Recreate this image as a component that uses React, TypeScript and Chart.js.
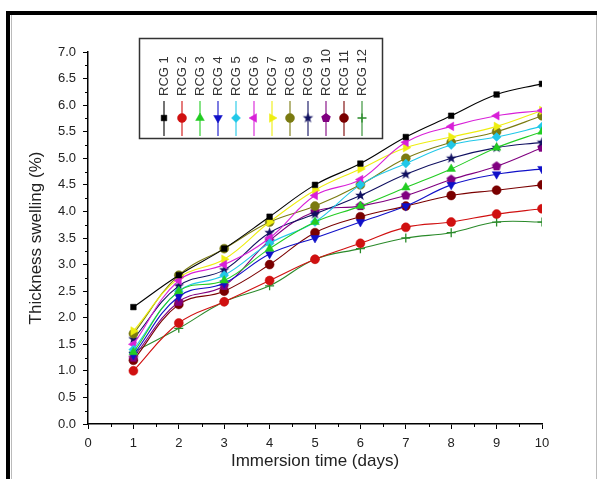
import React, { useEffect, useRef } from 'react';
import { Chart, registerables } from 'chart.js';
import { drawPoint } from 'chart.js/helpers';
Chart.register(...registerables);

const days = [1, 2, 3, 4, 5, 6, 7, 8, 9, 10];
const seriesLabels = ['RCG 1', 'RCG 2', 'RCG 3', 'RCG 4', 'RCG 5', 'RCG 6', 'RCG 7', 'RCG 8', 'RCG 9', 'RCG 10', 'RCG 11', 'RCG 12'];
const rcg1 = [2.2, 2.8, 3.3, 3.9, 4.5, 4.9, 5.4, 5.8, 6.2, 6.4];
const rcg2 = [1.0, 1.9, 2.3, 2.7, 3.1, 3.4, 3.7, 3.8, 3.95, 4.05];
const rcg3 = [1.35, 2.5, 2.7, 3.3, 3.8, 4.1, 4.45, 4.8, 5.2, 5.5];
const rcg4 = [1.3, 2.4, 2.65, 3.2, 3.5, 3.8, 4.1, 4.5, 4.7, 4.8];
const rcg5 = [1.4, 2.5, 2.8, 3.4, 3.8, 4.5, 4.9, 5.25, 5.4, 5.6];
const rcg6 = [1.5, 2.7, 3.0, 3.5, 4.3, 4.6, 5.3, 5.6, 5.8, 5.9];
const rcg7 = [1.75, 2.75, 3.1, 3.8, 4.4, 4.8, 5.2, 5.4, 5.6, 5.9];
const rcg8 = [1.7, 2.8, 3.3, 3.8, 4.1, 4.5, 5.0, 5.3, 5.5, 5.8];
const rcg9 = [1.6, 2.6, 2.9, 3.6, 3.95, 4.3, 4.7, 5.0, 5.2, 5.3];
const rcg10 = [1.25, 2.3, 2.6, 3.45, 4.0, 4.1, 4.3, 4.6, 4.85, 5.2];
const rcg11 = [1.2, 2.25, 2.5, 3.0, 3.6, 3.9, 4.1, 4.3, 4.4, 4.5];
const rcg12 = [1.35, 1.8, 2.3, 2.6, 3.1, 3.3, 3.5, 3.6, 3.8, 3.8];
const seriesValues = [rcg1, rcg2, rcg3, rcg4, rcg5, rcg6, rcg7, rcg8, rcg9, rcg10, rcg11, rcg12];
const seriesColors = ['#000000', '#d01010', '#22cc22', '#1010c8', '#20c8e8', '#d820d8', '#eeee10', '#7a7a10', '#101060', '#800080', '#7a0000', '#2a8a2a'];

const FONT = "'Liberation Sans', Arial, sans-serif";

function makeShape(color: string, r: number, kind: 'star' | 'pentagon') {
  const s = Math.ceil(r * 2 + 2);
  const c = document.createElement('canvas');
  c.width = s; c.height = s;
  const ctx = c.getContext('2d')!;
  ctx.fillStyle = color;
  ctx.beginPath();
  const n = kind === 'star' ? 10 : 5;
  for (let i = 0; i < n; i++) {
    const ang = -Math.PI / 2 + (i * 2 * Math.PI) / n;
    const rr = kind === 'star' && i % 2 === 1 ? r * 0.42 : r;
    const px = s / 2 + rr * Math.cos(ang);
    const py = s / 2 + rr * Math.sin(ang);
    if (i === 0) ctx.moveTo(px, py); else ctx.lineTo(px, py);
  }
  ctx.closePath();
  ctx.fill();
  return c;
}

export default function App() {
  const ref = useRef<HTMLCanvasElement>(null);
  useEffect(() => {
    const star = makeShape('#101060', 5.5, 'star');
    const penta = makeShape('#800080', 5, 'pentagon');
    const styles: any[] = ['rect', 'circle', 'triangle', 'triangle', 'rectRot', 'triangle', 'triangle', 'circle', star, penta, 'circle', 'cross'];
    const rotations = [0, 0, 0, 180, 0, 270, 90, 0, 0, 0, 0, 0];
    const radii = [4, 4.5, 5, 5, 4.5, 5, 5, 4.5, 5, 5, 4.5, 4.5];

    const datasets = seriesValues.map((vals, i) => ({
      label: seriesLabels[i],
      data: days.map((d, j) => ({ x: d, y: vals[j] })),
      borderColor: seriesColors[i],
      backgroundColor: seriesColors[i],
      pointBackgroundColor: seriesColors[i],
      pointBorderColor: seriesColors[i],
      pointStyle: styles[i],
      pointRotation: rotations[i],
      pointRadius: radii[i],
      pointBorderWidth: i === 11 ? 1.3 : 0.5,
      borderWidth: 1.1,
      tension: 0.4,
      fill: false,
    }));

    const framePlugin = {
      id: 'frameAndExtras',
      afterDraw(chart: any) {
        const ctx = chart.ctx;
        const xs = chart.scales.x;
        const ys = chart.scales.y;
        const area = chart.chartArea;
        ctx.save();
        // minor ticks
        ctx.strokeStyle = '#000';
        ctx.lineWidth = 1;
        ctx.beginPath();
        for (let v = 0.5; v < 10; v += 1) {
          const px = Math.round(xs.getPixelForValue(v)) + 0.5;
          ctx.moveTo(px, area.bottom);
          ctx.lineTo(px, area.bottom + 3);
        }
        for (let v = 0.25; v < 7; v += 0.5) {
          const py = Math.round(ys.getPixelForValue(v)) + 0.5;
          ctx.moveTo(area.left - 3, py);
          ctx.lineTo(area.left, py);
        }
        ctx.stroke();

        // legend box
        const bx = 139, by = 38, bw = 243, bh = 100;
        ctx.fillStyle = '#fff';
        ctx.fillRect(bx, by, bw, bh);
        ctx.strokeStyle = '#333';
        ctx.lineWidth = 1.5;
        ctx.strokeRect(bx + 0.5, by + 0.5, bw, bh);
        chart.data.datasets.forEach((ds: any, i: number) => {
          const cx = 164 + i * 18;
          ctx.strokeStyle = ds.borderColor;
          ctx.lineWidth = 1.1;
          ctx.beginPath();
          ctx.moveTo(cx, 101);
          ctx.lineTo(cx, 136);
          ctx.stroke();
          ctx.fillStyle = ds.backgroundColor;
          ctx.strokeStyle = ds.borderColor;
          ctx.lineWidth = i === 11 ? 1.3 : 0.5;
          drawPoint(ctx, { pointStyle: ds.pointStyle, rotation: ds.pointRotation, radius: ds.pointRadius, borderWidth: ctx.lineWidth }, cx, 118);
          ctx.save();
          ctx.translate(cx, 96);
          ctx.rotate(-Math.PI / 2);
          ctx.fillStyle = '#333';
          ctx.font = `13px ${FONT}`;
          ctx.textAlign = 'left';
          ctx.textBaseline = 'middle';
          ctx.fillText(ds.label, 0, 0);
          ctx.restore();
        });

        // outer frame
        ctx.fillStyle = '#000';
        ctx.fillRect(6, 11, 591, 4);
        ctx.fillRect(6, 11, 4, 468);
        ctx.strokeStyle = '#bbb';
        ctx.lineWidth = 1;
        ctx.beginPath();
        ctx.moveTo(596.5, 15);
        ctx.lineTo(596.5, 479);
        ctx.moveTo(11.5, 15);
        ctx.lineTo(11.5, 479);
        ctx.stroke();
        ctx.restore();
      },
    };

    const chart = new Chart(ref.current!, {
      type: 'line',
      data: { datasets },
      options: {
        animation: false,
        responsive: false,
        devicePixelRatio: 1,
        layout: { padding: { top: 52, right: 56, left: 0, bottom: 0 } },
        plugins: { legend: { display: false }, tooltip: { enabled: false } },
        scales: {
          x: {
            type: 'linear',
            min: 0,
            max: 10,
            afterFit: (s: any) => { s.height = 55; },
            ticks: { stepSize: 1, color: '#222', font: { size: 13, family: FONT }, padding: 7, maxRotation: 0 },
            grid: { drawOnChartArea: false, drawTicks: true, tickLength: 5, tickColor: '#000', tickWidth: 1 },
            border: { display: true, color: '#000', width: 1.5 },
            title: { display: true, text: 'Immersion time (days)', color: '#222', font: { size: 17, family: FONT }, padding: { top: 0, bottom: 7 } },
          },
          y: {
            type: 'linear',
            min: 0,
            max: 7,
            afterFit: (s: any) => { s.width = 88; },
            ticks: { stepSize: 0.5, color: '#222', font: { size: 13, family: FONT }, padding: 7, callback: (v: any) => Number(v).toFixed(1) },
            grid: { drawOnChartArea: false, drawTicks: true, tickLength: 5, tickColor: '#000', tickWidth: 1 },
            border: { display: true, color: '#000', width: 1.5 },
            title: { display: true, text: 'Thickness swelling (%)', color: '#222', font: { size: 17, family: FONT }, padding: { top: 26, bottom: 0 } },
          },
        },
      },
      plugins: [framePlugin],
    });
    return () => chart.destroy();
  }, []);

  return (
    <div style={{ position: 'absolute', left: 0, top: 0, width: 598, height: 479, background: '#fff' }}>
      <canvas ref={ref} width={598} height={479} style={{ display: 'block', width: 598, height: 479 }} />
    </div>
  );
}
